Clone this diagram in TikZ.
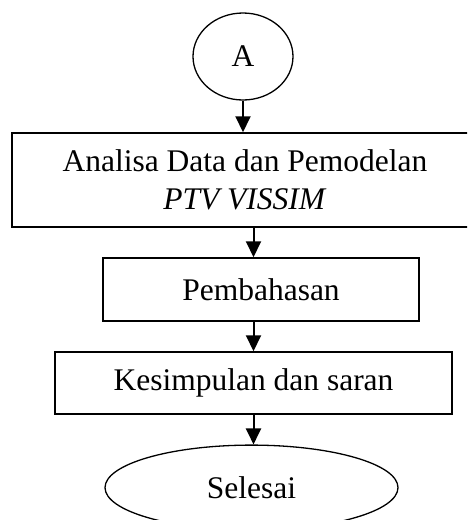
\documentclass[tikz,border=0pt]{standalone}
\usepackage{fontspec}
\setmainfont{Liberation Serif}
\usetikzlibrary{shapes.geometric,arrows.meta}
\begin{document}
\begin{tikzpicture}[x=1pt,y=-1pt,
  every node/.style={font=\fontsize{31.5}{38}\selectfont, inner sep=0pt, align=center},
  boxstyle/.style={draw, line width=1.5pt, rectangle},
  ovalstyle/.style={draw, line width=1.3pt, ellipse},
  arr/.style={line width=2pt, -{Triangle[length=16pt,width=15pt]}}]
\useasboundingbox (0,0) rectangle (467,520);
\begin{scope}
\clip (0,0) rectangle (467,520);
\node[ovalstyle, minimum width=100pt, minimum height=87pt] (A) at (243,56.5) {A};
\node[boxstyle, minimum width=466pt, minimum height=94pt] (b1) at (245,180) {Analisa Data dan Pemodelan\\\textit{PTV VISSIM}};
\node[boxstyle, minimum width=316pt, minimum height=63pt] (b2) at (261,289.5) {Pembahasan};
\node[boxstyle, minimum width=397pt, minimum height=62pt] (b3) at (253.5,383) {Kesimpulan dan saran};
\node[ovalstyle, minimum width=293pt, minimum height=85pt] (e) at (251.5,487.6) {Selesai};
\draw[arr] (A.south) -- (A.south |- b1.north);
\draw[arr] (b1.south -| b3.north) -- (b2.north -| b3.north);
\draw[arr] (b2.south -| b3.north) -- (b3.north);
\draw[arr] (b3.south) -- (b3.south |- e.north);
\end{scope}
\end{tikzpicture}
\end{document}
